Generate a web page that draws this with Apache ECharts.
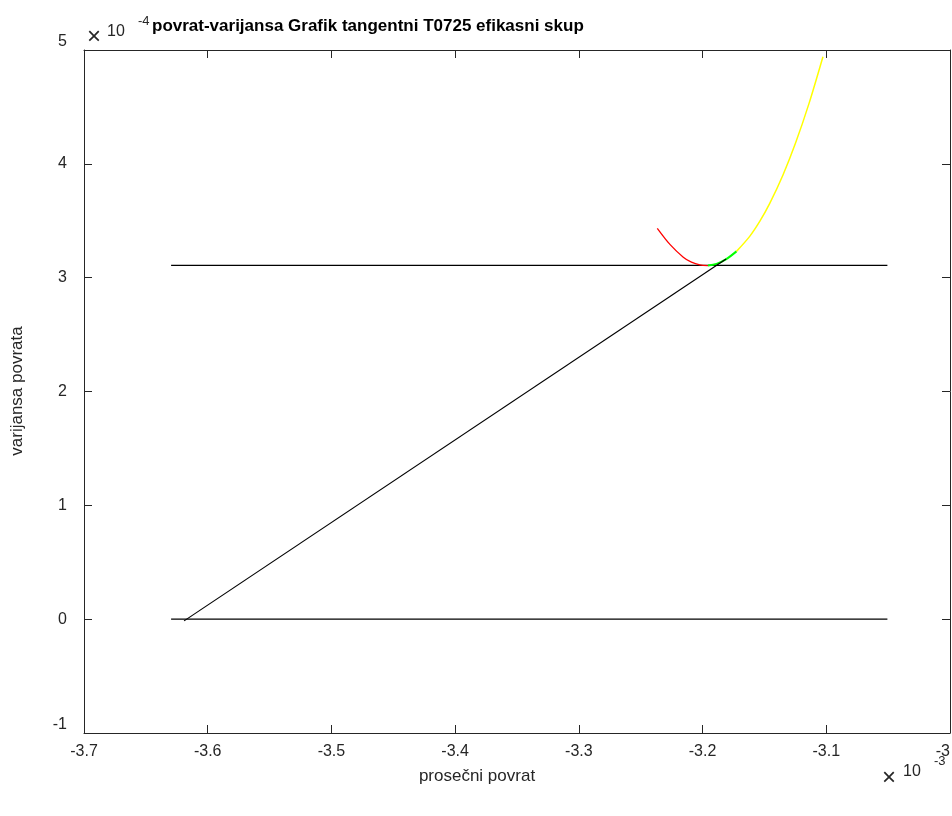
<!DOCTYPE html>
<html>
<head>
<meta charset="utf-8">
<script src="https://cdn.jsdelivr.net/npm/echarts@6/dist/echarts.min.js"></script>
<style>html,body{margin:0;padding:0;background:#fff}#c{width:952px;height:816px}</style>
</head>
<body>
<div id="c"></div>
<script>
// values in units of 1e-3 (x) and 1e-4 (y)
const redX = [-3.2366, -3.2264, -3.2156, -3.2090, -3.2022, -3.1957];
const redY = [3.433, 3.292, 3.180, 3.136, 3.112, 3.106];
const greenX = [-3.1957, -3.1887, -3.1812, -3.1726];
const greenY = [3.106, 3.121, 3.160, 3.231];
const yellowX = [-3.1726, -3.1619, -3.1538, -3.1457, -3.1350, -3.1250, -3.1140, -3.1027];
const yellowY = [3.231, 3.363, 3.494, 3.652, 3.902, 4.178, 4.529, 4.941];
const lowerLineX = [-3.6296, -3.0506];
const lowerLineY = [0, 0];
const upperLineX = [-3.6296, -3.0506];
const upperLineY = [3.108, 3.108];
const tangentX = [-3.6191, -3.1810];
const tangentY = [-0.015, 3.165];
const xTicks = {min: -3.7, max: -3.0, step: 0.1};
const yTicks = {min: -1, max: 5, step: 1};
const titleText = 'povrat-varijansa Grafik tangentni T0725 efikasni skup';
const xName = 'prosečni povrat';
const yName = 'varijansa povrata';

const zip = (a, b) => a.map((v, i) => [v, b[i]]);
const font = 'Liberation Sans, Arial, Helvetica, sans-serif';
const axColor = '#262626';
const fmt = v => String(+(+v).toFixed(1));

const chart = echarts.init(document.getElementById('c'), null, {renderer: 'canvas'});
const baseX = {
  type: 'value', min: xTicks.min, max: xTicks.max, interval: xTicks.step,
  axisLine: {show: true, onZero: false, lineStyle: {color: axColor, width: 1}},
  axisTick: {show: true, inside: true, length: 8, lineStyle: {color: axColor}},
  splitLine: {show: false}
};
const baseY = {
  type: 'value', min: yTicks.min, max: yTicks.max, interval: yTicks.step,
  axisLine: {show: true, onZero: false, lineStyle: {color: axColor, width: 1}},
  axisTick: {show: true, inside: true, length: 8, lineStyle: {color: axColor}},
  splitLine: {show: false}
};
chart.setOption({
  animation: false,
  backgroundColor: '#fff',
  title: {
    text: titleText, left: 152, top: 18, padding: 0,
    textStyle: {fontFamily: font, fontSize: 17, fontWeight: 'bold', color: '#000'}
  },
  grid: {left: 84, right: 2, top: 50, bottom: 83, containLabel: false, outerBoundsMode: 'none'},
  xAxis: [
    Object.assign({}, baseX, {
      position: 'bottom',
      axisLabel: {show: true, margin: 11, color: axColor, fontFamily: font, fontSize: 16, formatter: fmt,
        alignMaxLabel: 'right'}
    }),
    Object.assign({}, baseX, {position: 'top', axisLabel: {show: false}})
  ],
  yAxis: [
    Object.assign({}, baseY, {
      position: 'left',
      axisLabel: {show: true, margin: 17, color: axColor, fontFamily: font, fontSize: 16,
        formatter: v => String(Math.round(v)),
        verticalAlignMinLabel: 'bottom', verticalAlignMaxLabel: 'bottom'}
    }),
    Object.assign({}, baseY, {position: 'right', axisLabel: {show: false}})
  ],
  graphic: [
    {type: 'text', x: 477, y: 776, style: {text: xName, font: '17px ' + font, fill: axColor, align: 'center', verticalAlign: 'middle'}},
    {type: 'text', x: 17, y: 391, rotation: Math.PI / 2, style: {text: yName, font: '17px ' + font, fill: axColor, align: 'center', verticalAlign: 'middle'}},
    {type: 'text', x: 94, y: 37, style: {text: '\u00d7', font: '24px ' + font, fill: axColor, align: 'center', verticalAlign: 'middle'}},
    {type: 'text', x: 107, y: 32, style: {text: '10', font: '16px ' + font, fill: axColor, verticalAlign: 'middle'}},
    {type: 'text', x: 138, y: 21, style: {text: '-4', font: '13px ' + font, fill: axColor, verticalAlign: 'middle'}},
    {type: 'text', x: 889, y: 778, style: {text: '\u00d7', font: '24px ' + font, fill: axColor, align: 'center', verticalAlign: 'middle'}},
    {type: 'text', x: 903, y: 772, style: {text: '10', font: '16px ' + font, fill: axColor, verticalAlign: 'middle'}},
    {type: 'text', x: 934, y: 761, style: {text: '-3', font: '13px ' + font, fill: axColor, verticalAlign: 'middle'}}
  ],
  series: [
    {type: 'line', data: zip(lowerLineX, lowerLineY), showSymbol: false, symbol: 'none', lineStyle: {color: '#000', width: 1.2}},
    {type: 'line', data: zip(upperLineX, upperLineY), showSymbol: false, symbol: 'none', lineStyle: {color: '#000', width: 1.2}},
    {type: 'line', data: zip(redX, redY), smooth: 0.3, symbol: 'none', lineStyle: {color: '#ff0000', width: 1.3}},
    {type: 'line', data: zip(yellowX, yellowY), smooth: 0.3, symbol: 'none', lineStyle: {color: '#ffff00', width: 1.5}},
    {type: 'line', data: zip(greenX, greenY), smooth: 0.3, symbol: 'none', lineStyle: {color: '#00ff00', width: 2}},
    {type: 'line', data: zip(tangentX, tangentY), symbol: 'none', lineStyle: {color: '#000', width: 1.2}}
  ]
});
</script>
</body>
</html>
